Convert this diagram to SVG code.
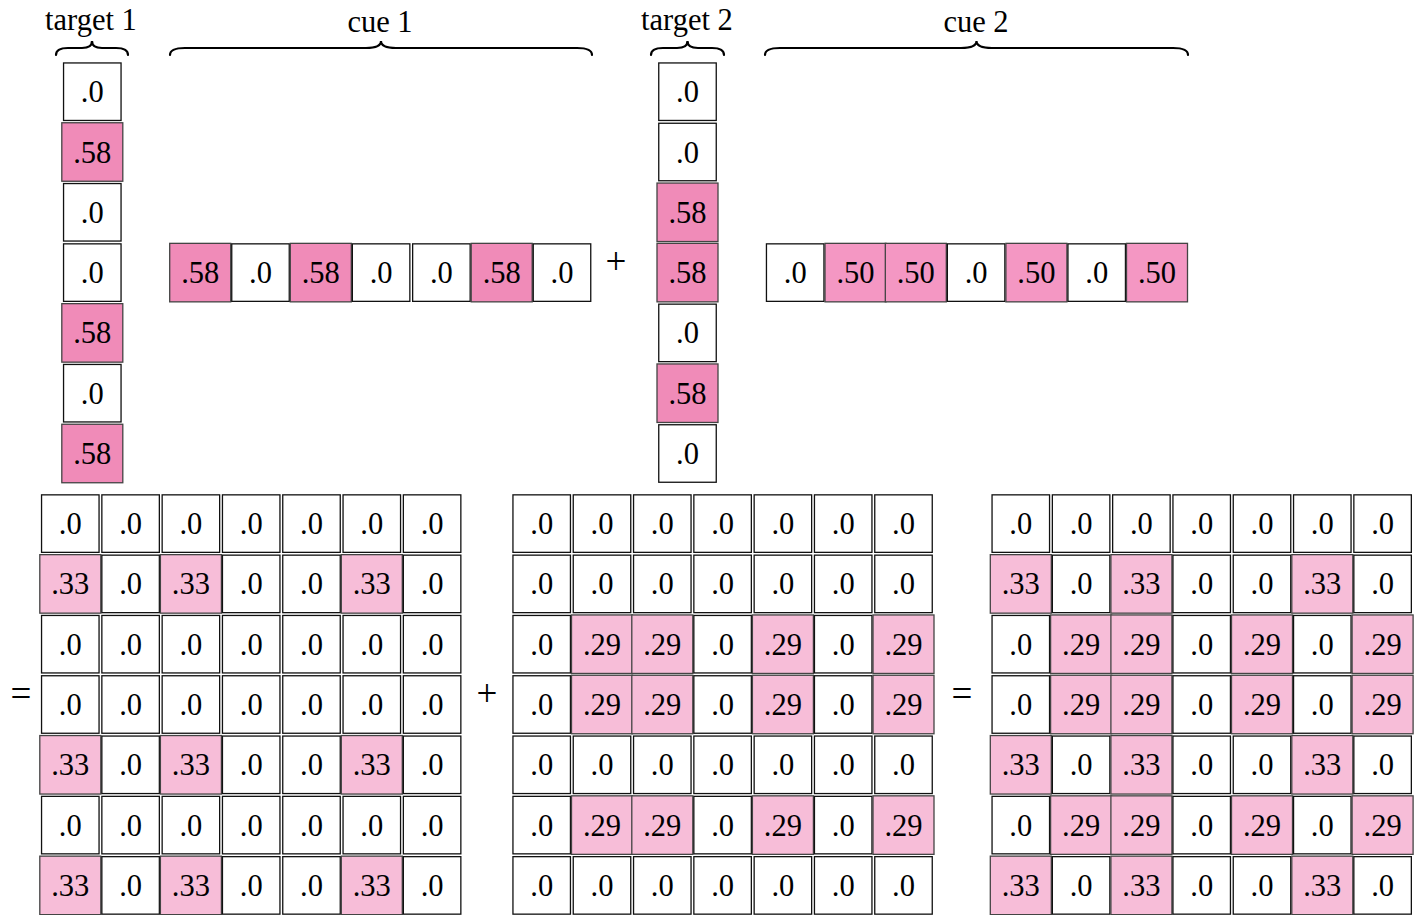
<svg xmlns="http://www.w3.org/2000/svg" xmlns:xlink="http://www.w3.org/1999/xlink" width="1418" height="915" viewBox="0 0 1418 915">
<style>
text{font-family:"Liberation Serif","Times New Roman",serif;font-size:30.5px;fill:#000;text-anchor:middle}
text.op{font-size:37px}
.w{fill:#fff;stroke:#111;stroke-width:1.3}
.p{fill:#F08BB8;stroke:#444;stroke-width:1.3}
.q{fill:#F497C3;stroke:#444;stroke-width:1.3}
.l{fill:#F7BDD8;stroke:#444;stroke-width:1.3}
.br{fill:none;stroke:#000;stroke-width:2.2;stroke-linecap:round}
</style>
<defs>
<rect id="W" class="w" x="-28.75" y="-28.75" width="57.5" height="57.5"/>
<rect id="P" class="p" x="-30.5" y="-29.25" width="61" height="58.5"/>
<rect id="Q" class="q" x="-30.5" y="-29.25" width="61" height="58.5"/>
<rect id="L" class="l" x="-30.5" y="-29.25" width="61" height="58.5"/>
</defs>
<g id="labels">
<text x="91" y="30">target 1</text>
<text x="380" y="32">cue 1</text>
<text x="687" y="30">target 2</text>
<text x="976" y="32">cue 2</text>
<text class="op" x="616" y="274">+</text>
<text class="op" x="21" y="706">=</text>
<text class="op" x="487" y="706">+</text>
<text class="op" x="962" y="706">=</text>
</g>
<g id="connectors">
<path class="br" d="M56,55 Q56,48 68,48 L82,48 Q92,48 92,41 Q92,48 102,48 L116,48 Q128,48 128,55"/>
<path class="br" d="M170,55 Q170,48 185,48 L366,48 Q381,48 381,41 Q381,48 396,48 L577,48 Q592,48 592,55"/>
<path class="br" d="M651,55 Q651,48 663,48 L677,48 Q687.5,48 687.5,41 Q687.5,48 698,48 L712,48 Q724,48 724,55"/>
<path class="br" d="M765,55 Q765,48 780,48 L961,48 Q976.5,48 976.5,41 Q976.5,48 992,48 L1173,48 Q1188,48 1188,55"/>
</g>
<g id="target1" transform="translate(92.3,91.7)">
<g id="t1-0"><use href="#W"/><text y="10.5">.0</text></g>
<g id="t1-1" transform="translate(0,60.3)"><use href="#P"/><text y="10.5">.58</text></g>
<g id="t1-2" transform="translate(0,120.6)"><use href="#W"/><text y="10.5">.0</text></g>
<g id="t1-3" transform="translate(0,180.9)"><use href="#W"/><text y="10.5">.0</text></g>
<g id="t1-4" transform="translate(0,241.2)"><use href="#P"/><text y="10.5">.58</text></g>
<g id="t1-5" transform="translate(0,301.5)"><use href="#W"/><text y="10.5">.0</text></g>
<g id="t1-6" transform="translate(0,361.8)"><use href="#P"/><text y="10.5">.58</text></g>
</g>
<g id="cue1" transform="translate(200.2,272.6)">
<g id="c1-0"><use href="#P"/><text y="10.5">.58</text></g>
<g id="c1-1" transform="translate(60.3,0)"><use href="#W"/><text y="10.5">.0</text></g>
<g id="c1-2" transform="translate(120.6,0)"><use href="#P"/><text y="10.5">.58</text></g>
<g id="c1-3" transform="translate(180.9,0)"><use href="#W"/><text y="10.5">.0</text></g>
<g id="c1-4" transform="translate(241.2,0)"><use href="#W"/><text y="10.5">.0</text></g>
<g id="c1-5" transform="translate(301.5,0)"><use href="#P"/><text y="10.5">.58</text></g>
<g id="c1-6" transform="translate(361.8,0)"><use href="#W"/><text y="10.5">.0</text></g>
</g>
<g id="target2" transform="translate(687.5,91.7)">
<g id="t2-0"><use href="#W"/><text y="10.5">.0</text></g>
<g id="t2-1" transform="translate(0,60.3)"><use href="#W"/><text y="10.5">.0</text></g>
<g id="t2-2" transform="translate(0,120.6)"><use href="#P"/><text y="10.5">.58</text></g>
<g id="t2-3" transform="translate(0,180.9)"><use href="#P"/><text y="10.5">.58</text></g>
<g id="t2-4" transform="translate(0,241.2)"><use href="#W"/><text y="10.5">.0</text></g>
<g id="t2-5" transform="translate(0,301.5)"><use href="#P"/><text y="10.5">.58</text></g>
<g id="t2-6" transform="translate(0,361.8)"><use href="#W"/><text y="10.5">.0</text></g>
</g>
<g id="cue2" transform="translate(795.2,272.6)">
<g id="c2-0"><use href="#W"/><text y="10.5">.0</text></g>
<g id="c2-1" transform="translate(60.3,0)"><use href="#Q"/><text y="10.5">.50</text></g>
<g id="c2-2" transform="translate(120.6,0)"><use href="#Q"/><text y="10.5">.50</text></g>
<g id="c2-3" transform="translate(180.9,0)"><use href="#W"/><text y="10.5">.0</text></g>
<g id="c2-4" transform="translate(241.2,0)"><use href="#Q"/><text y="10.5">.50</text></g>
<g id="c2-5" transform="translate(301.5,0)"><use href="#W"/><text y="10.5">.0</text></g>
<g id="c2-6" transform="translate(361.8,0)"><use href="#Q"/><text y="10.5">.50</text></g>
</g>

<g id="m1" transform="translate(70.3,523.6)">
<g id="m1-r0"><g><use href="#W"/><text y="10.5">.0</text></g><g transform="translate(60.3,0)"><use href="#W"/><text y="10.5">.0</text></g><g transform="translate(120.6,0)"><use href="#W"/><text y="10.5">.0</text></g><g transform="translate(180.9,0)"><use href="#W"/><text y="10.5">.0</text></g><g transform="translate(241.2,0)"><use href="#W"/><text y="10.5">.0</text></g><g transform="translate(301.5,0)"><use href="#W"/><text y="10.5">.0</text></g><g transform="translate(361.8,0)"><use href="#W"/><text y="10.5">.0</text></g></g>
<g id="m1-r1" transform="translate(0,60.3)"><g><use href="#L"/><text y="10.5">.33</text></g><g transform="translate(60.3,0)"><use href="#W"/><text y="10.5">.0</text></g><g transform="translate(120.6,0)"><use href="#L"/><text y="10.5">.33</text></g><g transform="translate(180.9,0)"><use href="#W"/><text y="10.5">.0</text></g><g transform="translate(241.2,0)"><use href="#W"/><text y="10.5">.0</text></g><g transform="translate(301.5,0)"><use href="#L"/><text y="10.5">.33</text></g><g transform="translate(361.8,0)"><use href="#W"/><text y="10.5">.0</text></g></g>
<g id="m1-r2" transform="translate(0,120.6)"><g><use href="#W"/><text y="10.5">.0</text></g><g transform="translate(60.3,0)"><use href="#W"/><text y="10.5">.0</text></g><g transform="translate(120.6,0)"><use href="#W"/><text y="10.5">.0</text></g><g transform="translate(180.9,0)"><use href="#W"/><text y="10.5">.0</text></g><g transform="translate(241.2,0)"><use href="#W"/><text y="10.5">.0</text></g><g transform="translate(301.5,0)"><use href="#W"/><text y="10.5">.0</text></g><g transform="translate(361.8,0)"><use href="#W"/><text y="10.5">.0</text></g></g>
<g id="m1-r3" transform="translate(0,180.9)"><g><use href="#W"/><text y="10.5">.0</text></g><g transform="translate(60.3,0)"><use href="#W"/><text y="10.5">.0</text></g><g transform="translate(120.6,0)"><use href="#W"/><text y="10.5">.0</text></g><g transform="translate(180.9,0)"><use href="#W"/><text y="10.5">.0</text></g><g transform="translate(241.2,0)"><use href="#W"/><text y="10.5">.0</text></g><g transform="translate(301.5,0)"><use href="#W"/><text y="10.5">.0</text></g><g transform="translate(361.8,0)"><use href="#W"/><text y="10.5">.0</text></g></g>
<g id="m1-r4" transform="translate(0,241.2)"><g><use href="#L"/><text y="10.5">.33</text></g><g transform="translate(60.3,0)"><use href="#W"/><text y="10.5">.0</text></g><g transform="translate(120.6,0)"><use href="#L"/><text y="10.5">.33</text></g><g transform="translate(180.9,0)"><use href="#W"/><text y="10.5">.0</text></g><g transform="translate(241.2,0)"><use href="#W"/><text y="10.5">.0</text></g><g transform="translate(301.5,0)"><use href="#L"/><text y="10.5">.33</text></g><g transform="translate(361.8,0)"><use href="#W"/><text y="10.5">.0</text></g></g>
<g id="m1-r5" transform="translate(0,301.5)"><g><use href="#W"/><text y="10.5">.0</text></g><g transform="translate(60.3,0)"><use href="#W"/><text y="10.5">.0</text></g><g transform="translate(120.6,0)"><use href="#W"/><text y="10.5">.0</text></g><g transform="translate(180.9,0)"><use href="#W"/><text y="10.5">.0</text></g><g transform="translate(241.2,0)"><use href="#W"/><text y="10.5">.0</text></g><g transform="translate(301.5,0)"><use href="#W"/><text y="10.5">.0</text></g><g transform="translate(361.8,0)"><use href="#W"/><text y="10.5">.0</text></g></g>
<g id="m1-r6" transform="translate(0,361.8)"><g><use href="#L"/><text y="10.5">.33</text></g><g transform="translate(60.3,0)"><use href="#W"/><text y="10.5">.0</text></g><g transform="translate(120.6,0)"><use href="#L"/><text y="10.5">.33</text></g><g transform="translate(180.9,0)"><use href="#W"/><text y="10.5">.0</text></g><g transform="translate(241.2,0)"><use href="#W"/><text y="10.5">.0</text></g><g transform="translate(301.5,0)"><use href="#L"/><text y="10.5">.33</text></g><g transform="translate(361.8,0)"><use href="#W"/><text y="10.5">.0</text></g></g>
</g>

<g id="m2" transform="translate(541.7,523.6)">
<g id="m2-r0"><g><use href="#W"/><text y="10.5">.0</text></g><g transform="translate(60.3,0)"><use href="#W"/><text y="10.5">.0</text></g><g transform="translate(120.6,0)"><use href="#W"/><text y="10.5">.0</text></g><g transform="translate(180.9,0)"><use href="#W"/><text y="10.5">.0</text></g><g transform="translate(241.2,0)"><use href="#W"/><text y="10.5">.0</text></g><g transform="translate(301.5,0)"><use href="#W"/><text y="10.5">.0</text></g><g transform="translate(361.8,0)"><use href="#W"/><text y="10.5">.0</text></g></g>
<g id="m2-r1" transform="translate(0,60.3)"><g><use href="#W"/><text y="10.5">.0</text></g><g transform="translate(60.3,0)"><use href="#W"/><text y="10.5">.0</text></g><g transform="translate(120.6,0)"><use href="#W"/><text y="10.5">.0</text></g><g transform="translate(180.9,0)"><use href="#W"/><text y="10.5">.0</text></g><g transform="translate(241.2,0)"><use href="#W"/><text y="10.5">.0</text></g><g transform="translate(301.5,0)"><use href="#W"/><text y="10.5">.0</text></g><g transform="translate(361.8,0)"><use href="#W"/><text y="10.5">.0</text></g></g>
<g id="m2-r2" transform="translate(0,120.6)"><g><use href="#W"/><text y="10.5">.0</text></g><g transform="translate(60.3,0)"><use href="#L"/><text y="10.5">.29</text></g><g transform="translate(120.6,0)"><use href="#L"/><text y="10.5">.29</text></g><g transform="translate(180.9,0)"><use href="#W"/><text y="10.5">.0</text></g><g transform="translate(241.2,0)"><use href="#L"/><text y="10.5">.29</text></g><g transform="translate(301.5,0)"><use href="#W"/><text y="10.5">.0</text></g><g transform="translate(361.8,0)"><use href="#L"/><text y="10.5">.29</text></g></g>
<g id="m2-r3" transform="translate(0,180.9)"><g><use href="#W"/><text y="10.5">.0</text></g><g transform="translate(60.3,0)"><use href="#L"/><text y="10.5">.29</text></g><g transform="translate(120.6,0)"><use href="#L"/><text y="10.5">.29</text></g><g transform="translate(180.9,0)"><use href="#W"/><text y="10.5">.0</text></g><g transform="translate(241.2,0)"><use href="#L"/><text y="10.5">.29</text></g><g transform="translate(301.5,0)"><use href="#W"/><text y="10.5">.0</text></g><g transform="translate(361.8,0)"><use href="#L"/><text y="10.5">.29</text></g></g>
<g id="m2-r4" transform="translate(0,241.2)"><g><use href="#W"/><text y="10.5">.0</text></g><g transform="translate(60.3,0)"><use href="#W"/><text y="10.5">.0</text></g><g transform="translate(120.6,0)"><use href="#W"/><text y="10.5">.0</text></g><g transform="translate(180.9,0)"><use href="#W"/><text y="10.5">.0</text></g><g transform="translate(241.2,0)"><use href="#W"/><text y="10.5">.0</text></g><g transform="translate(301.5,0)"><use href="#W"/><text y="10.5">.0</text></g><g transform="translate(361.8,0)"><use href="#W"/><text y="10.5">.0</text></g></g>
<g id="m2-r5" transform="translate(0,301.5)"><g><use href="#W"/><text y="10.5">.0</text></g><g transform="translate(60.3,0)"><use href="#L"/><text y="10.5">.29</text></g><g transform="translate(120.6,0)"><use href="#L"/><text y="10.5">.29</text></g><g transform="translate(180.9,0)"><use href="#W"/><text y="10.5">.0</text></g><g transform="translate(241.2,0)"><use href="#L"/><text y="10.5">.29</text></g><g transform="translate(301.5,0)"><use href="#W"/><text y="10.5">.0</text></g><g transform="translate(361.8,0)"><use href="#L"/><text y="10.5">.29</text></g></g>
<g id="m2-r6" transform="translate(0,361.8)"><g><use href="#W"/><text y="10.5">.0</text></g><g transform="translate(60.3,0)"><use href="#W"/><text y="10.5">.0</text></g><g transform="translate(120.6,0)"><use href="#W"/><text y="10.5">.0</text></g><g transform="translate(180.9,0)"><use href="#W"/><text y="10.5">.0</text></g><g transform="translate(241.2,0)"><use href="#W"/><text y="10.5">.0</text></g><g transform="translate(301.5,0)"><use href="#W"/><text y="10.5">.0</text></g><g transform="translate(361.8,0)"><use href="#W"/><text y="10.5">.0</text></g></g>
</g>

<g id="m3" transform="translate(1020.8,523.6)">
<g id="m3-r0"><g><use href="#W"/><text y="10.5">.0</text></g><g transform="translate(60.3,0)"><use href="#W"/><text y="10.5">.0</text></g><g transform="translate(120.6,0)"><use href="#W"/><text y="10.5">.0</text></g><g transform="translate(180.9,0)"><use href="#W"/><text y="10.5">.0</text></g><g transform="translate(241.2,0)"><use href="#W"/><text y="10.5">.0</text></g><g transform="translate(301.5,0)"><use href="#W"/><text y="10.5">.0</text></g><g transform="translate(361.8,0)"><use href="#W"/><text y="10.5">.0</text></g></g>
<g id="m3-r1" transform="translate(0,60.3)"><g><use href="#L"/><text y="10.5">.33</text></g><g transform="translate(60.3,0)"><use href="#W"/><text y="10.5">.0</text></g><g transform="translate(120.6,0)"><use href="#L"/><text y="10.5">.33</text></g><g transform="translate(180.9,0)"><use href="#W"/><text y="10.5">.0</text></g><g transform="translate(241.2,0)"><use href="#W"/><text y="10.5">.0</text></g><g transform="translate(301.5,0)"><use href="#L"/><text y="10.5">.33</text></g><g transform="translate(361.8,0)"><use href="#W"/><text y="10.5">.0</text></g></g>
<g id="m3-r2" transform="translate(0,120.6)"><g><use href="#W"/><text y="10.5">.0</text></g><g transform="translate(60.3,0)"><use href="#L"/><text y="10.5">.29</text></g><g transform="translate(120.6,0)"><use href="#L"/><text y="10.5">.29</text></g><g transform="translate(180.9,0)"><use href="#W"/><text y="10.5">.0</text></g><g transform="translate(241.2,0)"><use href="#L"/><text y="10.5">.29</text></g><g transform="translate(301.5,0)"><use href="#W"/><text y="10.5">.0</text></g><g transform="translate(361.8,0)"><use href="#L"/><text y="10.5">.29</text></g></g>
<g id="m3-r3" transform="translate(0,180.9)"><g><use href="#W"/><text y="10.5">.0</text></g><g transform="translate(60.3,0)"><use href="#L"/><text y="10.5">.29</text></g><g transform="translate(120.6,0)"><use href="#L"/><text y="10.5">.29</text></g><g transform="translate(180.9,0)"><use href="#W"/><text y="10.5">.0</text></g><g transform="translate(241.2,0)"><use href="#L"/><text y="10.5">.29</text></g><g transform="translate(301.5,0)"><use href="#W"/><text y="10.5">.0</text></g><g transform="translate(361.8,0)"><use href="#L"/><text y="10.5">.29</text></g></g>
<g id="m3-r4" transform="translate(0,241.2)"><g><use href="#L"/><text y="10.5">.33</text></g><g transform="translate(60.3,0)"><use href="#W"/><text y="10.5">.0</text></g><g transform="translate(120.6,0)"><use href="#L"/><text y="10.5">.33</text></g><g transform="translate(180.9,0)"><use href="#W"/><text y="10.5">.0</text></g><g transform="translate(241.2,0)"><use href="#W"/><text y="10.5">.0</text></g><g transform="translate(301.5,0)"><use href="#L"/><text y="10.5">.33</text></g><g transform="translate(361.8,0)"><use href="#W"/><text y="10.5">.0</text></g></g>
<g id="m3-r5" transform="translate(0,301.5)"><g><use href="#W"/><text y="10.5">.0</text></g><g transform="translate(60.3,0)"><use href="#L"/><text y="10.5">.29</text></g><g transform="translate(120.6,0)"><use href="#L"/><text y="10.5">.29</text></g><g transform="translate(180.9,0)"><use href="#W"/><text y="10.5">.0</text></g><g transform="translate(241.2,0)"><use href="#L"/><text y="10.5">.29</text></g><g transform="translate(301.5,0)"><use href="#W"/><text y="10.5">.0</text></g><g transform="translate(361.8,0)"><use href="#L"/><text y="10.5">.29</text></g></g>
<g id="m3-r6" transform="translate(0,361.8)"><g><use href="#L"/><text y="10.5">.33</text></g><g transform="translate(60.3,0)"><use href="#W"/><text y="10.5">.0</text></g><g transform="translate(120.6,0)"><use href="#L"/><text y="10.5">.33</text></g><g transform="translate(180.9,0)"><use href="#W"/><text y="10.5">.0</text></g><g transform="translate(241.2,0)"><use href="#W"/><text y="10.5">.0</text></g><g transform="translate(301.5,0)"><use href="#L"/><text y="10.5">.33</text></g><g transform="translate(361.8,0)"><use href="#W"/><text y="10.5">.0</text></g></g>
</g>
</svg>
